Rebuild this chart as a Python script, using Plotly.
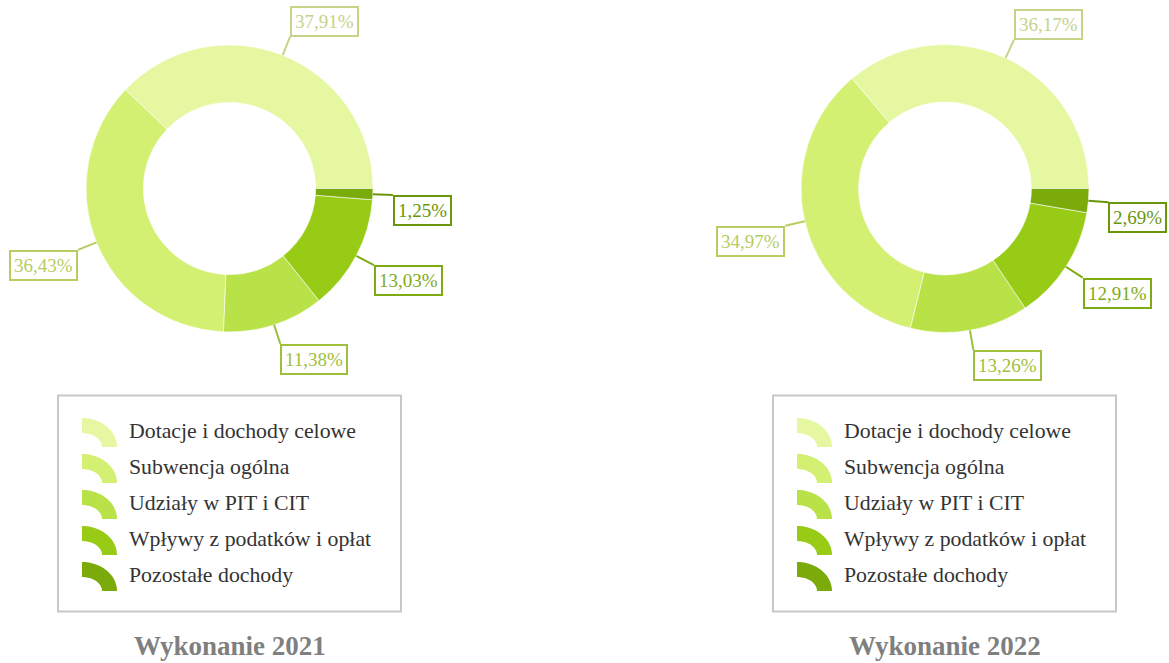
import math
import plotly.graph_objects as go

# ---- data ----
categories = ["Dotacje i dochody celowe", "Subwencja ogólna", "Udziały w PIT i CIT",
              "Wpływy z podatków i opłat", "Pozostałe dochody"]
values_2021 = [37.91, 36.43, 11.38, 13.03, 1.25]
values_2022 = [36.17, 34.97, 13.26, 12.91, 2.69]
titles = ["Wykonanie 2021", "Wykonanie 2022"]

# ---- style ----
W, H = 1169, 663
fill_colors = ["#e5f8a1", "#d4f072", "#b9e148", "#97cb16", "#7aab0b"]
label_colors = ["#c4d489", "#b5cd61", "#9ec03d", "#7fab12", "#6a9609"]
FONT = "Liberation Serif"

charts = [
    dict(values=values_2021, cx=229.5, cy=188.5, r=143.5, legend_x=58, title=titles[0]),
    dict(values=values_2022, cx=945.0, cy=188.5, r=144.0, legend_x=773, title=titles[1]),
]
hole = 0.6
leader_len = 20

fig = go.Figure()
shapes = []
annotations = []

def fmt(v):
    return f"{v:.2f}".replace(".", ",") + "%"

for ch in charts:
    cx, cy, r = ch["cx"], ch["cy"], ch["r"]
    total = sum(ch["values"])
    # plotly puts the first slice clockwise of `rotation` in ccw mode;
    # shift so the first slice starts at 3 o'clock and runs counterclockwise
    rot = 90 - ch["values"][0] / total * 360.0
    fig.add_trace(go.Pie(
        labels=categories, values=ch["values"], hole=hole, sort=False,
        direction="counterclockwise", rotation=rot,
        marker=dict(colors=fill_colors, line=dict(color="rgba(255,255,255,0.6)", width=1)),
        textinfo="none", hoverinfo="label+percent", showlegend=False,
        domain=dict(x=[(cx - r) / W, (cx + r) / W],
                    y=[(H - cy - r) / H, (H - cy + r) / H]),
    ))
    # labels with leader lines, positioned from slice mid-angles
    start = 0.0
    for i, v in enumerate(ch["values"]):
        span = v / total * 360.0
        mid = math.radians(start + span / 2)
        start += span
        c, s = math.cos(mid), math.sin(mid)
        x0, y0 = cx + r * c, cy - r * s
        x1, y1 = cx + (r + leader_len) * c, cy - (r + leader_len) * s
        shapes.append(dict(type="line", xref="x", yref="y", x0=x0, y0=y0, x1=x1, y1=y1,
                           line=dict(color=label_colors[i], width=2)))
        annotations.append(dict(
            xref="x", yref="y", x=x1, y=y1, text=fmt(v), showarrow=False,
            xanchor="left" if c >= 0 else "right",
            yanchor="bottom" if s > 0 else "top",
            font=dict(family=FONT, size=19, color=label_colors[i]),
            bordercolor=label_colors[i], borderwidth=2, borderpad=3, bgcolor="white",
        ))
    # legend box
    lx = ch["legend_x"]
    shapes.append(dict(type="rect", xref="x", yref="y", x0=lx, x1=lx + 343, y0=395.5, y1=611.5,
                       line=dict(color="#c8c8c8", width=2), fillcolor="rgba(0,0,0,0)"))
    for i, name in enumerate(categories):
        ecx, ecy = lx + 24, 447 + 36 * i
        pts = []
        n = 20
        for k in range(n + 1):
            a = math.pi / 2 - k * (math.pi / 2) / n
            pts.append((ecx + 35 * math.cos(a), ecy - 29 * math.sin(a)))
        for k in range(n + 1):
            a = k * (math.pi / 2) / n
            pts.append((ecx + 20 * math.cos(a), ecy - 14 * math.sin(a)))
        path = "M " + " L ".join(f"{px:.2f},{py:.2f}" for px, py in pts) + " Z"
        shapes.append(dict(type="path", xref="x", yref="y", path=path,
                           fillcolor=fill_colors[i], line=dict(width=0)))
        annotations.append(dict(
            xref="x", yref="y", x=lx + 69, y=431 + 36 * i, text=name, showarrow=False,
            xanchor="left", yanchor="middle",
            font=dict(family=FONT, size=21.8, color="#333333"),
        ))
    annotations.append(dict(
        xref="x", yref="y", x=cx, y=646, text=f"<b>{ch['title']}</b>", showarrow=False,
        xanchor="center", yanchor="middle",
        font=dict(family=FONT, size=27, color="#7f7f7f"),
    ))

fig.update_layout(
    width=W, height=H, margin=dict(l=0, r=0, t=0, b=0),
    paper_bgcolor="white", plot_bgcolor="rgba(0,0,0,0)",
    xaxis=dict(range=[0, W], visible=False, domain=[0, 1], fixedrange=True),
    yaxis=dict(range=[H, 0], visible=False, domain=[0, 1], fixedrange=True),
    shapes=shapes, annotations=annotations, showlegend=False,
)
fig.write_html("out.html", config={"displayModeBar": False},
               post_script="document.body.style.margin='0';document.body.style.overflow='hidden';")
